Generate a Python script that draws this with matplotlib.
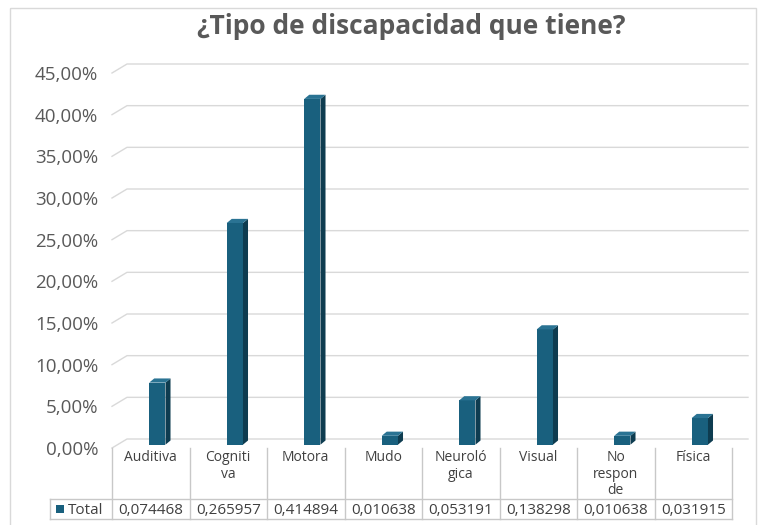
import matplotlib.pyplot as plt
from matplotlib.patches import Rectangle, Polygon

# datos
categorias = ['Auditiva', 'Cogniti\nva', 'Motora', 'Mudo', 'Neuroló\ngica',
              'Visual', 'No\nrespon\nde', 'Física']
valores = [0.074468, 0.265957, 0.414894, 0.010638, 0.053191,
           0.138298, 0.010638, 0.031915]
ticks = [0, 5, 10, 15, 20, 25, 30, 35, 40, 45]
tick_labels = ['0,00%', '5,00%', '10,00%', '15,00%', '20,00%', '25,00%',
               '30,00%', '35,00%', '40,00%', '45,00%']
serie = 'Total'

c_front = '#19607e'
c_side = '#0e3c50'
c_top = '#2a7393'
c_grid = '#d9d9d9'
c_txt = '#404040'

W, H = 760, 525
fig = plt.figure(figsize=(7.6, 5.25), dpi=100)

# ejes del grafico (plano frontal: 0% en y=448px, 45% en y=73px)
colw = 77.5
x_left, x_right = 112, 748
ax = fig.add_axes([x_left / W, (H - 448) / H, (x_right - x_left) / W, 375 / H])
ax.set_xlim(0, (x_right - x_left) / colw)
ax.set_ylim(0, 45)
for s in ax.spines.values():
    s.set_visible(False)
ax.set_xticks([])
ax.set_yticks(ticks)
ax.set_yticklabels(tick_labels, fontsize=13.5, color='#595959', family='Open Sans')
ax.tick_params(axis='y', length=0, pad=10)

DX, DY = 15 / colw, 9 / (375 / 45)
xmax = (x_right - x_left) / colw
for t in ticks:
    ax.plot([0, DX, xmax], [t, t + DY, t + DY], color=c_grid, lw=1, clip_on=False, zorder=1)

# barras 3D
w, sx, sy, base = 0.21, 0.065, 0.5, 0.4
for i, v in enumerate(valores):
    v = v * 100
    x0 = i + 0.48
    ax.add_patch(Rectangle((x0, base), w, v, facecolor=c_front, edgecolor='none', zorder=3))
    ax.add_patch(Polygon([(x0 + w, base), (x0 + w + sx, base + sy), (x0 + w + sx, base + v + sy),
                          (x0 + w, base + v)], facecolor=c_side, edgecolor='none', zorder=3))
    ax.add_patch(Polygon([(x0, base + v), (x0 + w, base + v), (x0 + w + sx, base + v + sy),
                          (x0 + sx, base + v + sy)], facecolor=c_top, edgecolor='none', zorder=3))

# capa en pixeles para la tabla y el marco
ov = fig.add_axes([0, 0, 1, 1], facecolor='none')
ov.set_xlim(0, W)
ov.set_ylim(H, 0)
ov.axis('off')

ov.add_patch(Rectangle((10, 8), 746, 520, fill=False, edgecolor=c_grid, lw=1))

ov.text(411, 26, '¿Tipo de discapacidad que tiene?', ha='center', va='center',
        fontsize=19, fontweight='bold', color='#595959', family='Open Sans')

tab_c = '#c8c8c8'
y_top, y_mid, y_bot = 448, 499, 519
for k in range(len(categorias) + 1):
    xk = x_left + k * colw
    ov.plot([xk, xk], [y_top, y_bot], color=tab_c, lw=1)
ov.plot([50, 50], [y_mid, y_bot], color=tab_c, lw=1)
x_end = x_left + len(categorias) * colw
ov.plot([50, x_end], [y_mid, y_mid], color=tab_c, lw=1)
ov.plot([50, x_end], [y_bot, y_bot], color=tab_c, lw=1)

for k, (cat, v) in enumerate(zip(categorias, valores)):
    xc = x_left + (k + 0.5) * colw
    ov.text(xc, 450, cat, ha='center', va='top', fontsize=10, color=c_txt,
            family='Open Sans', linespacing=1.15)
    ov.text(xc, (y_mid + y_bot) / 2 + 1, f'{v:.6f}'.replace('.', ','), ha='center', va='center',
            fontsize=11, color=c_txt, family='Open Sans')

ov.add_patch(Rectangle((56, 505), 8, 8, facecolor=c_front, edgecolor='none'))
ov.text(68, (y_mid + y_bot) / 2 + 1, serie, ha='left', va='center', fontsize=11,
        color=c_txt, family='Open Sans')

fig.savefig('out.png', dpi=100)
